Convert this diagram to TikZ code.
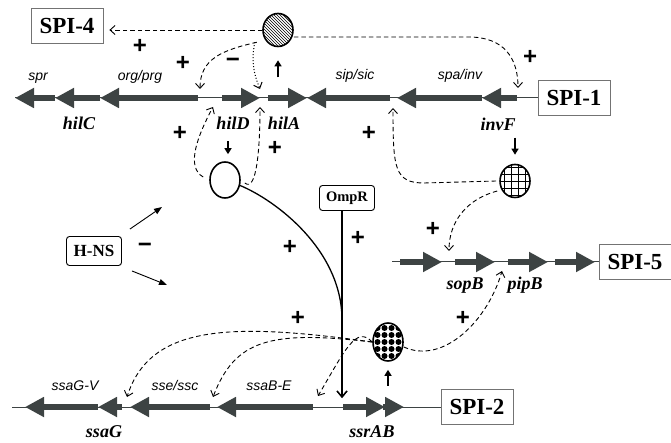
\documentclass[tikz,border=0pt]{standalone}
\usepackage{fontspec}
\setmainfont{Liberation Serif}
\setsansfont{Liberation Sans}
\usepackage{xcolor}
\usetikzlibrary{arrows.meta,patterns,shapes.geometric,calc}
\definecolor{genegray}{HTML}{3D4343}

\begin{document}
\begin{tikzpicture}[x=1pt,y=-1pt,
    dna/.style={line width=1pt, genegray},
    gene/.style={line width=6pt, genegray, -{Triangle[length=19pt,width=19pt]}},
    spibox/.style={draw=black!55, line width=0.8pt, minimum width=72pt, minimum height=35pt, inner sep=0pt, font=\fontsize{23}{23}\selectfont\bfseries},
    tfbox/.style={draw, rounded corners=3pt, line width=0.9pt, inner sep=2pt},
    reg/.style={ellipse, draw, line width=1.6pt, minimum width=30pt, minimum height=33pt, inner sep=0pt},
    opname/.style={anchor=base, font=\sffamily\itshape\fontsize{14}{14}\selectfont},
    gname/.style={anchor=base, font=\fontsize{18}{18}\selectfont\bfseries\itshape},
    sign/.style={font=\sffamily\bfseries\fontsize{24}{24}\selectfont},
    act/.style={line width=0.9pt, dash pattern=on 4.5pt off 3pt, -{Straight Barb[length=5pt,width=9pt]}},
    actdot/.style={line width=1pt, dotted, -{Straight Barb[length=5pt,width=9pt]}},
    main/.style={line width=1.3pt, -{Straight Barb[length=6pt,width=10pt]}},
    prod/.style={line width=1.3pt, -{Triangle[length=6pt,width=7pt]}},
    hnsarr/.style={line width=0.9pt, -{Triangle[length=8pt,width=6pt]}},
    gridfill/.style={path picture={
        \foreach \k in {-10.5,-3.5,3.5,10.5}
            \draw[line width=0.6pt] ([shift={(\k,-20)}]path picture bounding box.center) -- ++(0,40);
        \foreach \k in {-14,-7,0,7,14}
            \draw[line width=0.6pt] ([shift={(-20,\k)}]path picture bounding box.center) -- ++(40,0);
    }},
    dotfill/.style={path picture={
        \foreach \i in {-10.5,-3.5,3.5,10.5}
            \foreach \j in {-14,-7,0,7,14}
                \fill ([shift={(\i,\j)}]path picture bounding box.center) circle (3pt);
    }}
]
    \useasboundingbox (0,0) rectangle (671,443);
    % 毒力岛标签
    \node[spibox] (spi4) at (67,26) {SPI-4};
    \node[spibox] (spi1) at (574,98) {SPI-1};
    \node[spibox] (spi5) at (635,262) {SPI-5};
    \node[spibox] (spi2) at (477,407) {SPI-2};
    % SPI-1 基因
    \draw[dna] (15,98) -- (spi1.west);
    \foreach \a/\b in {55/15, 100/55, 198/100, 222/260, 268/307, 390/307, 482/397, 517/482}
        \draw[gene] (\a,98) -- (\b,98);
    % SPI-5 基因
    \draw[dna] (392,262) -- (spi5.west);
    \foreach \a/\b in {400/442, 455/495, 508/548, 555/595}
        \draw[gene] (\a,262) -- (\b,262);
    % SPI-2 基因
    \draw[dna] (12,407) -- (spi2.west);
    \foreach \a/\b in {98/25, 122/98, 210/130, 313/217, 343/385, 383/404}
        \draw[gene] (\a,407) -- (\b,407);
    % 操纵子与基因名
    \node[opname] (lspr) at (38,81) {spr};
    \node[opname] (lorg) at (140,81) {org/prg};
    \node[opname] (lsip) at (355,80) {sip/sic};
    \node[opname] (lspa) at (460,80) {spa/inv};
    \node[opname] (lssav) at (75,390) {ssaG-V};
    \node[opname] (lsse) at (175,390) {sse/ssc};
    \node[opname] (lssab) at (269,390) {ssaB-E};
    \node[gname] (lhilC) at (79,130) {hilC};
    \node[gname] (lhilD) at (233,130) {hilD};
    \node[gname] (lhilA) at (284,130) {hilA};
    \node[gname] (linvF) at (498,131) {invF};
    \node[gname] (lsopB) at (465,290) {sopB};
    \node[gname] (lpipB) at (525,290) {pipB};
    \node[gname] (lssaG) at (104,437) {ssaG};
    \node[gname] (lssrAB) at (372,437) {ssrAB};
    % 调控蛋白
    \node[reg, pattern=north west lines] (hilAp) at (278,30) {};
    \node[reg, fill=white, minimum height=36pt] (hilDp) at (225,180) {};
    \node[reg, gridfill] (invFp) at (515,181) {};
    \node[reg, dotfill, minimum height=38pt] (ssrBp) at (388,342) {};
    \node[tfbox, minimum width=55pt, minimum height=29pt, font=\bfseries\fontsize{17}{17}\selectfont] (hns) at (94,251) {H-NS};
    \node[tfbox, minimum width=55pt, minimum height=25pt, font=\bfseries\fontsize{14.5}{14.5}\selectfont] (ompr) at (347,198) {OmpR};
    % 启动子位置
    \coordinate (t1) at (200,89);
    \coordinate (t2) at (260,89);
    \coordinate (t3) at (518,88);
    \coordinate (t5) at (213,107);
    \coordinate (t6) at (260,107);
    \coordinate (t7) at (393,108);
    \coordinate (t8) at (449,251);
    \coordinate (t9) at (502,271);
    \coordinate (t10) at (127,397);
    \coordinate (t11) at (213,397);
    \coordinate (t12) at (318,396);
    \coordinate (t13) at (342,398);
    \coordinate (hup) at (162,207);
    \coordinate (hdn) at (167,285);
    % 蛋白表达
    \draw[prod] ([yshift=-30pt]hilAp.south) -- ++(0,-17);
    \draw[prod] ([shift={(3pt,20pt)}]hilDp.north) -- ++(0,13);
    \draw[prod] ([yshift=26pt]invFp.north) -- ++(0,17);
    \draw[prod] ([yshift=-24pt]ssrBp.south) -- ++(0,-16);
    % HilA 调控
    \draw[act, shorten >=6pt] (hilAp.west) -- (hilAp.west -| spi4.east);
    \draw[act] ([yshift=-7pt]hilAp.east) -- ++(175,0) .. controls +(35,0) and +(0,-30) .. (t3);
    \draw[act] ([xshift=-10pt]hilAp.south west) .. controls +(-35,8) and +(0,-30) .. (t1);
    \draw[actdot] ([xshift=-12pt]hilAp.south west) .. controls +(-4,20) and +(-6,-15) .. (t2);
    % HilD 调控
    \draw[act] ([shift={(-6pt,3pt)}]hilDp.west) .. controls +(-18,-10) and +(-15,28) .. (t5);
    \draw[act] ([shift={(4pt,-3pt)}]hilDp.east) .. controls +(12,10) and +(0,40) .. (t6);
    \draw[main] (hilDp.-20) .. controls +(36,15) and +(0,-70) .. ([yshift=78pt]t13) -- (t13);
    \draw[main] (ompr.south -| t13) -- (t13);
    % InvF 调控
    \draw[act] ([xshift=-3pt]invFp.west) -- ++(-72,2) .. controls +(-30,0) and +(0,60) .. (t7);
    \draw[act] ([shift={(-2pt,-10pt)}]invFp.west) .. controls +(-30,8) and +(0,-30) .. (t8);
    % SsrB 调控
    \draw[act] ([yshift=-5pt]ssrBp.east) .. controls +(40,18) and +(-14,49) .. (t9);
    \draw[act] (ssrBp.west) .. controls +(-143,-20) and +(23,-72) .. (t10);
    \draw[act] (ssrBp.west) .. controls +(-103,-12) and +(22,-57) .. (t11);
    \draw[act] (ssrBp.west) .. controls +(-16,-17) and +(27,-46) .. (t12);
    % H-NS 抑制
    \draw[hnsarr] ([shift={(8pt,7pt)}]hns.north east) -- (hup);
    \draw[hnsarr] ([shift={(10pt,-5pt)}]hns.south east) -- (hdn);
    % 正负号
    \foreach \p [count=\i] in {(140,46),(183,63),(530,57),(180,133),(275,148),(369,133),(290,247),(358,238),(298,318),(433,229),(463,318)}
        \node[sign] (pl\i) at \p {+};
    \node[sign] (mi1) at (233,63) {−};
    \node[sign] (mi2) at (145,248) {−};
\end{tikzpicture}
\end{document}
